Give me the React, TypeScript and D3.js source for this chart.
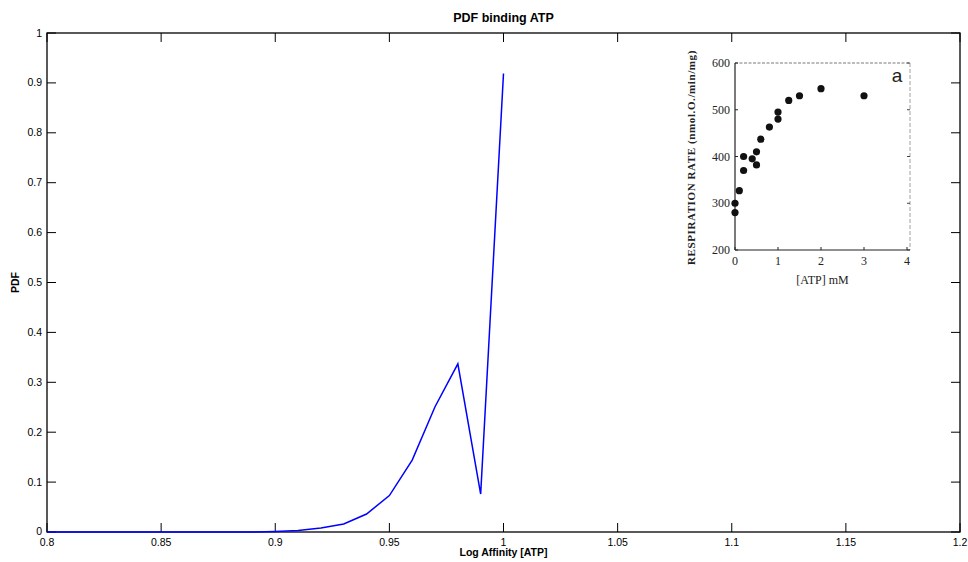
import React from "react";
import * as d3 from "d3";

const affinity = [0.8, 0.81, 0.82, 0.83, 0.84, 0.85, 0.86, 0.87, 0.88, 0.89, 0.9, 0.91, 0.92, 0.93, 0.94, 0.95, 0.96, 0.97, 0.98, 0.99, 1.0];
const pdf = [0, 0, 0, 0, 0, 0, 0, 0, 0, 0, 0.001, 0.003, 0.008, 0.016, 0.036, 0.073, 0.144, 0.251, 0.337, 0.076, 0.919];
const xTicks = [0.8, 0.85, 0.9, 0.95, 1, 1.05, 1.1, 1.15, 1.2];
const yTicks = [0, 0.1, 0.2, 0.3, 0.4, 0.5, 0.6, 0.7, 0.8, 0.9, 1];

const atpConc = [0, 0, 0.1, 0.2, 0.2, 0.4, 0.5, 0.5, 0.6, 0.8, 1, 1, 1.25, 1.5, 2, 3];
const respRate = [300, 280, 327, 400, 370, 395, 410, 382, 437, 463, 495, 480, 520, 530, 545, 530];
const insetXTicks = [0, 1, 2, 3, 4];
const insetYTicks = [200, 300, 400, 500, 600];

export default function App() {
  const W = 968, H = 562;
  const L = 47, R = 960, T = 33, B = 532;
  const x = d3.scaleLinear().domain([0.8, 1.2]).range([L, R]);
  const y = d3.scaleLinear().domain([0, 1]).range([B, T]);
  const line = d3.line<number>().x((_, i) => x(affinity[i])).y((d) => y(d));
  const tl = 9;
  const font = "Liberation Sans, Arial, sans-serif";

  const iL = 735, iR = 910, iT = 63, iB = 250;
  const ix = d3.scaleLinear().domain([0, 4]).range([iL, iR - 3]);
  const iy = d3.scaleLinear().domain([200, 600]).range([iB, iT]);
  const serif = "Liberation Serif, DejaVu Serif, serif";

  return (
    <svg width={W} height={H} style={{ position: "absolute", left: 0, top: 0, background: "#fff" }}>
      <rect x={0} y={0} width={W} height={H} fill="#fff" />
      {/* main axes box */}
      <rect x={L} y={T} width={R - L} height={B - T} fill="none" stroke="#000" strokeWidth={1.3} />
      {xTicks.map((t) => (
        <g key={"xt" + t}>
          <line x1={x(t)} x2={x(t)} y1={B} y2={B - tl} stroke="#000" strokeWidth={1} />
          <line x1={x(t)} x2={x(t)} y1={T} y2={T + tl} stroke="#000" strokeWidth={1} />
          <text x={x(t)} y={B + 13.5} fontSize={10.5} fontFamily={font} textAnchor="middle" fill="#000">{String(t)}</text>
        </g>
      ))}
      {yTicks.map((t) => (
        <g key={"yt" + t}>
          <line x1={L} x2={L + tl} y1={y(t)} y2={y(t)} stroke="#000" strokeWidth={1} />
          <line x1={R} x2={R - tl} y1={y(t)} y2={y(t)} stroke="#000" strokeWidth={1} />
          <text x={L - 5} y={y(t) + (t === 0 ? 2.5 : 3.5)} fontSize={10.5} fontFamily={font} textAnchor="end" fill="#000">{String(t)}</text>
        </g>
      ))}
      <path d={line(pdf) || ""} fill="none" stroke="#0000ff" strokeWidth={1.5} strokeLinejoin="miter" />
      <text x={(L + R) / 2} y={22} fontSize={12.5} fontWeight="bold" fontFamily={font} textAnchor="middle">PDF binding ATP</text>
      <text x={(L + R) / 2} y={556} fontSize={10.5} fontWeight="bold" fontFamily={font} textAnchor="middle">Log Affinity [ATP]</text>
      <text transform={`translate(19,${(T + B) / 2}) rotate(-90)`} fontSize={10.5} fontWeight="bold" fontFamily={font} textAnchor="middle">PDF</text>

      {/* inset */}
      <g>
        <line x1={iL} x2={iR} y1={iT} y2={iT} stroke="#555" strokeWidth={0.8} strokeDasharray="3,1.5" />
        <line x1={iR} x2={iR} y1={iT} y2={iB} stroke="#888" strokeWidth={0.8} strokeDasharray="4,2" />
        <line x1={iL} x2={iL} y1={iT} y2={iB} stroke="#222" strokeWidth={1.2} />
        <line x1={iL} x2={iR} y1={iB} y2={iB} stroke="#222" strokeWidth={1.2} />
        {insetYTicks.map((t) => (
          <g key={"iy" + t}>
            <line x1={iL} x2={iL + 3} y1={iy(t)} y2={iy(t)} stroke="#222" strokeWidth={1} />
            <line x1={iR} x2={iR - 3} y1={iy(t)} y2={iy(t)} stroke="#444" strokeWidth={1} />
            <text x={iL - 5} y={iy(t) + 4} fontSize={12} fontFamily={serif} textAnchor="end" fill="#222">{String(t)}</text>
          </g>
        ))}
        {insetXTicks.map((t) => (
          <g key={"ix" + t}>
            <line x1={ix(t)} x2={ix(t)} y1={iB} y2={iB - 3} stroke="#222" strokeWidth={1} />
            <text x={ix(t)} y={iB + 15} fontSize={12} fontFamily={serif} textAnchor="middle" fill="#222">{String(t)}</text>
          </g>
        ))}
        {atpConc.map((c, i) => (
          <circle key={"pt" + i} cx={ix(c)} cy={iy(respRate[i])} r={3.6} fill="#111" />
        ))}
        <text x={897} y={82} fontSize={19} fontFamily={font} textAnchor="middle" fill="#222">a</text>
        <text x={(iL + iR) / 2} y={iB + 34} fontSize={12} fontFamily={serif} textAnchor="middle" fill="#222">[ATP] mM</text>
        <text transform={`translate(695,${(iT + iB) / 2 + 1}) rotate(-90)`} fontSize={11} fontWeight="bold" fontFamily={serif} letterSpacing={0.6} textAnchor="middle" fill="#222">RESPIRATION RATE (nmol.O./min/mg)</text>
      </g>
    </svg>
  );
}
